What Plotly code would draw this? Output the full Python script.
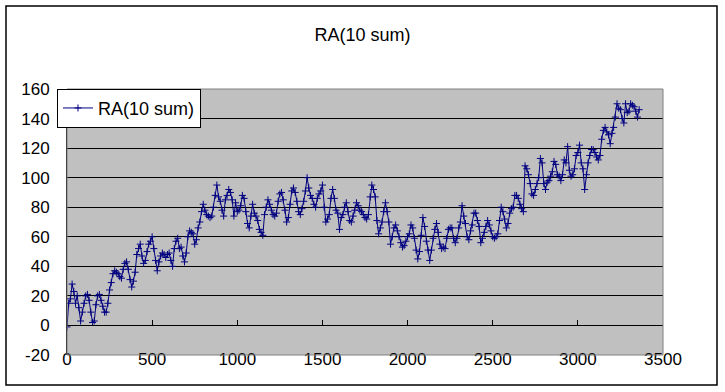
import plotly.graph_objects as go

# ---- data ----
step = 10
ra_values = [
    -1, 15, 18, 28, 23, 15, 20, 12, 3, 9,
    15, 20, 21, 17, 9, 2, 3, 14, 20, 21,
    17, 13, 9, 9, 15, 24, 29, 35, 37, 36,
    35, 33, 32, 38, 42, 43, 38, 31, 26, 30,
    36, 48, 52, 55, 47, 42, 44, 50, 55, 57,
    60, 52, 44, 37, 43, 47, 49, 48, 46, 48,
    49, 44, 40, 52, 57, 59, 52, 53, 47, 43,
    49, 60, 64, 63, 62, 55, 58, 66, 70, 77,
    82, 78, 75, 74, 73, 74, 80, 88, 95, 87,
    84, 78, 74, 85, 88, 92, 90, 85, 74, 83,
    77, 78, 81, 88, 86, 77, 69, 66, 74, 82,
    76, 74, 71, 65, 63, 61, 75, 80, 85, 82,
    78, 75, 74, 76, 84, 89, 90, 85, 78, 70,
    73, 82, 91, 93, 90, 84, 77, 75, 79, 84,
    91, 100, 93, 88, 86, 82, 80, 86, 89, 91,
    95, 80, 70, 72, 75, 86, 92, 86, 78, 76,
    65, 73, 75, 80, 83, 77, 71, 70, 74, 78,
    83, 81, 78, 77, 75, 73, 72, 75, 87, 95,
    92, 87, 71, 62, 66, 70, 77, 83, 77, 70,
    55, 60, 66, 68, 64, 60, 56, 53, 54, 57,
    60, 62, 68, 66, 59, 51, 45, 50, 61, 73,
    67, 57, 51, 44, 51, 59, 65, 69, 63, 55,
    52, 53, 52, 59, 65, 66, 66, 59, 56, 59,
    66, 70, 81, 74, 69, 60, 58, 64, 68, 76,
    76, 71, 67, 56, 59, 63, 67, 71, 68, 64,
    60, 59, 60, 62, 71, 80, 77, 72, 66, 69,
    76, 79, 80, 88, 88, 86, 82, 79, 77, 108,
    106, 102, 96, 89, 88, 92, 96, 100, 113, 110,
    96, 92, 97, 98, 101, 104, 111, 109, 102, 101,
    98, 102, 112, 110, 121, 105, 101, 102, 106, 115,
    117, 122, 110, 106, 92, 102, 110, 115, 119, 119,
    117, 114, 112, 115, 126, 132, 134, 131, 129, 123,
    130, 134, 141, 150, 147, 146, 140, 137, 150, 144,
    145, 150, 149, 148, 145, 141, 146,
]
x_values = [i * step for i in range(len(ra_values))]
series_name = "RA(10 sum)"
chart_title = "RA(10 sum)"
x_ticks = [0, 500, 1000, 1500, 2000, 2500, 3000, 3500]
x_tick_labels = ["0", "500", "1000", "1500", "2000", "2500", "3000", "3500"]
y_ticks = [-20, 0, 20, 40, 60, 80, 100, 120, 140, 160]
y_tick_labels = ["-20", "0", "20", "40", "60", "80", "100", "120", "140", "160"]

FONT = "Liberation Sans, Arial, sans-serif"
NAVY = "#000080"

fig = go.Figure()
fig.add_trace(go.Scatter(
    x=x_values, y=ra_values, name=series_name,
    mode="lines+markers",
    line=dict(color=NAVY, width=1),
    marker=dict(symbol="cross-thin", size=5, color=NAVY,
                line=dict(color=NAVY, width=1)),
))
# helper trace so the crossing x-axis (at y=0) is drawn
fig.add_trace(go.Scatter(x=[None], y=[None], xaxis="x2", yaxis="y",
                         showlegend=False, hoverinfo="skip"))

fig.update_layout(
    width=725, height=392,
    margin=dict(l=67, r=62, t=89, b=37),
    paper_bgcolor="white",
    plot_bgcolor="#C0C0C0",
    font=dict(family=FONT, size=17, color="black"),
    title=dict(text=chart_title, x=0.5, xref="container", xanchor="center",
               y=1 - 34.5 / 392, yref="container", yanchor="middle",
               font=dict(family=FONT, size=18, color="black")),
    showlegend=True,
    legend=dict(x=-0.0168, y=1 - (108 - 88.7) / 266.6, xanchor="left",
                yanchor="middle",
                bgcolor="white", bordercolor="black", borderwidth=1,
                font=dict(family=FONT, size=18, color="black"),
                itemwidth=30),
    xaxis=dict(range=[0, 3500], tickvals=x_ticks, ticktext=x_tick_labels,
               showgrid=False, zeroline=False, showline=False, ticks="",
               ticklabelstandoff=-8, tickfont=dict(size=17)),
    xaxis2=dict(range=[0, 3500], tickvals=x_ticks, overlaying="x",
                anchor="free", position=20 / 180, side="bottom",
                showline=True, linecolor="black", linewidth=1,
                ticks="inside", ticklen=5, tickcolor="black", tickwidth=1,
                showticklabels=False, showgrid=False, zeroline=False),
    yaxis=dict(range=[-20, 160], tickvals=y_ticks, ticktext=y_tick_labels,
               showgrid=True, gridcolor="black", gridwidth=1, zeroline=False,
               showline=True, linecolor="black", linewidth=1,
               ticks="", ticklabelstandoff=13, tickfont=dict(size=17)),
    shapes=[
        dict(type="rect", xref="paper", yref="paper", x0=0, x1=1, y0=0, y1=1,
             line=dict(color="#808080", width=1), layer="above"),
        dict(type="rect", xref="paper", yref="paper",
             x0=(6 - 67) / 596, x1=(717 - 67) / 596,
             y0=(355 - 385) / 266, y1=(355 - 6) / 266,
             line=dict(color="black", width=1.5), layer="above"),
    ],
)

fig.write_html("out.html",
               config={"displayModeBar": False},
               post_script="document.body.style.margin='0';")
